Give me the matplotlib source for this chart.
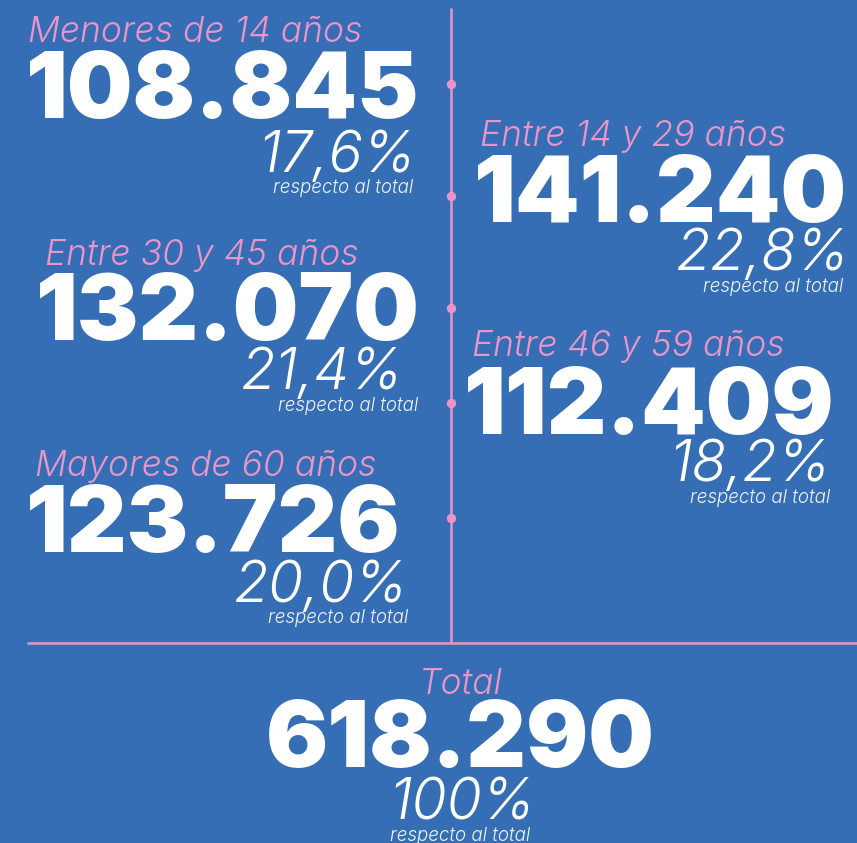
import matplotlib
matplotlib.use("Agg")
import matplotlib.pyplot as plt

# === DATA ===
groups = ["Menores de 14 años", "Entre 14 y 29 años", "Entre 30 y 45 años",
          "Entre 46 y 59 años", "Mayores de 60 años"]
counts = ["108.845", "141.240", "132.070", "112.409", "123.726"]
percents = ["17,6%", "22,8%", "21,4%", "18,2%", "20,0%"]
total_label = "Total"
total_count = "618.290"
total_percent = "100%"
note = "respecto al total"

# === LAYOUT (pixels, y down) ===
# label left x, label baseline, number left x, number baseline, pct right x, pct baseline, note right x, note baseline
blocks = [
    (28, 42, 26, 118, 416, 172, 413, 193),
    (480, 146, 474, 222, 850, 270, 843, 292),
    (45, 265, 36, 340, 404, 389, 418, 411),
    (472, 356, 464, 434, 831, 481, 830, 503),
    (35, 476, 26, 552, 409, 602, 408, 623),
]
dots_y = [84, 196, 308, 403, 518]

BG = "#356EB5"
PINK = "#EA95C7"
NOTE = "#EEF2FA"
W, H = 857, 843

fig = plt.figure(figsize=(W / 100, H / 100), dpi=100, facecolor=BG)
ax = fig.add_axes([0, 0, 1, 1])
ax.set_facecolor(BG)
ax.set_xlim(0, W)
ax.set_ylim(H, 0)
ax.axis("off")

light = dict(family="Inter", style="italic", fontweight=300)
heavy = dict(family="Inter", fontweight=900)

for i in range(len(groups)):
    lx, lb, nx, nb, pr, pb, rx, rb = blocks[i]
    ax.text(lx, lb, groups[i], color=PINK, fontsize=25.5, ha="left", va="baseline", **light)
    ax.text(nx, nb, counts[i], color="white", fontsize=66.5, ha="left", va="baseline", **heavy)
    ax.text(pr, pb, percents[i], color="white", fontsize=41, ha="right", va="baseline", **light)
    ax.text(rx, rb, note, color=NOTE, fontsize=13.5, ha="right", va="baseline", **light)

# total block
ax.text(461, 694, total_label, color=PINK, fontsize=25.5, ha="center", va="baseline", **light)
ax.text(460, 767, total_count, color="white", fontsize=66.5, ha="center", va="baseline", **heavy)
ax.text(462, 819, total_percent, color="white", fontsize=41, ha="center", va="baseline", **light)
ax.text(460, 841, note, color=NOTE, fontsize=13.5, ha="center", va="baseline", **light)

# divider lines
ax.plot([451, 451], [8, 643], color=PINK, lw=1.8, solid_capstyle="butt")
ax.plot([27, W], [643, 643], color=PINK, lw=1.8, solid_capstyle="butt")
ax.scatter([451] * len(dots_y), dots_y, s=33, color=PINK, zorder=3)

fig.savefig("out.png", dpi=100, facecolor=BG)
